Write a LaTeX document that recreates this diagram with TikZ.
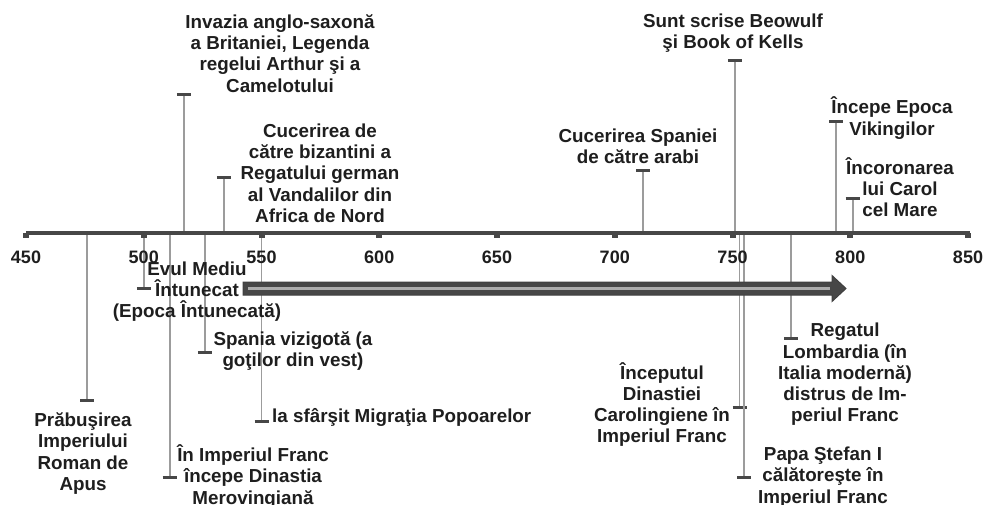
\documentclass[tikz,border=0pt]{standalone}
\usepackage{fontspec}
\setmainfont{Liberation Sans}
\usetikzlibrary{positioning,calc}
\definecolor{axisgray}{HTML}{474747}
\definecolor{stemgray}{HTML}{9C9C9C}
\definecolor{inkgray}{HTML}{1E1E1E}

\begin{document}
\begin{tikzpicture}[
    %–––– GLOBAL STYLE TWEAKS ––––
    x=1pt, y=-1pt,                                   % pixel-like units, y downwards
    font=\fontsize{18.8}{21.3}\selectfont\bfseries,
    event/.style = {text=inkgray, align=center, inner sep=0pt},
    yearlabel/.style = {text=inkgray, inner sep=0pt, font=\fontsize{18}{21}\selectfont\bfseries},
    stem/.style = {draw=stemgray, line width=1.8pt},
    capline/.style = {draw=axisgray, line width=3pt},
]
\useasboundingbox (0,0) rectangle (987,505);

%–––– AXIS ENDS ––––
\coordinate (axis west) at (26,233);
\coordinate (axis east) at (970,233);

%–––– STEMS AND CAPS (year / cap height / name) ––––
\foreach \yr/\capy/\nm in {
  517/95/anglo, 534/178/vandal, 712/171/spain, 751/61/beowulf,
  794/122/viking, 801/198/carol, 476/400/rome, 500/288/dark,
  511/477/mero, 526/352/visi, 550/421/migr, 753/407/caro,
  755/477/pope, 775/338/lomb}
{
  \coordinate (\nm) at ({26+(\yr-450)*2.355},\capy);
  \draw[stem] (\nm |- axis west) -- (\nm);
  \draw[capline] ($(\nm)+(-7,0)$) -- ($(\nm)+(7,0)$);
}

%–––– TIME AXIS ––––
\draw[axisgray, line width=4pt] (axis west) -- (axis east);
\foreach \yr in {450,500,...,850} {
  \coordinate (tick\yr) at ({26+(\yr-450)*2.355},233);
  \fill[axisgray] ($(tick\yr)+(-3,0)$) rectangle ($(tick\yr)+(3,5)$);
  \node[yearlabel] (year\yr) at ($(tick\yr)+(0,24)$) {\yr};
}

%–––– ERA ARROW ––––
\coordinate (era start) at (243,288.5);
\coordinate (era end) at (846,288.5);
\filldraw[fill=axisgray, draw=axisgray!90!black, line width=1pt]
  ($(era start)+(0,-6.5)$) -- ($(era end)+(-14,-6.5)$) -- ($(era end)+(-14,-13)$)
  -- (era end) -- ($(era end)+(-14,13)$) -- ($(era end)+(-14,6.5)$)
  -- ($(era start)+(0,6.5)$) -- cycle;
\draw[gray!65, line width=2.5pt] ($(era start)+(5,0)$) -- ($(era end)+(-16,0)$);

%–––– EVENTS ABOVE ––––
\node[event] (ev anglo)   at (280,53.5) {Invazia anglo-saxonă\\a Britaniei, Legenda\\regelui Arthur şi a\\Camelotului};
\node[event] (ev vandal)  at (320,173)  {Cucerirea de\\către bizantini a\\Regatului german\\al Vandalilor din\\Africa de Nord};
\node[event] (ev spain)   at (638,146)  {Cucerirea Spaniei\\de către arabi};
\node[event] (ev beowulf) at (733,33)   {Sunt scrise Beowulf\\şi Book of Kells};
\node[event] (ev viking)  at (892,118)  {Începe Epoca\\Vikingilor};
\node[event] (ev carol)   at (900,187)  {Încoronarea\\lui Carol\\cel Mare};

%–––– EVENTS BELOW ––––
\node[event] (ev rome)    at (83,453.5) {Prăbuşirea\\Imperiului\\Roman de\\Apus};
\node[event] (ev dark)    at (197,291.5){Evul Mediu\\Întunecat\\(Epoca Întunecată)};
\node[event] (ev mero)    at (253,476.5){În Imperiul Franc\\începe Dinastia\\Merovingiană};
\node[event] (ev visi)    at (293,351)  {Spania vizigotă (a\\goţilor din vest)};
\node[event, anchor=west] (ev migr) at (272,417) {la sfârşit Migraţia Popoarelor};
\node[event] (ev caro)    at (662,404.5){Începutul\\Dinastiei\\Carolingiene în\\Imperiul Franc};
\node[event] (ev pope)    at (823,477)  {Papa Ştefan I\\călătoreşte în\\Imperiul Franc};
\node[event] (ev lomb)    at (845,374.5){Regatul\\Lombardia (în\\Italia modernă)\\distrus de Im-\\periul Franc};
\end{tikzpicture}
\end{document}
